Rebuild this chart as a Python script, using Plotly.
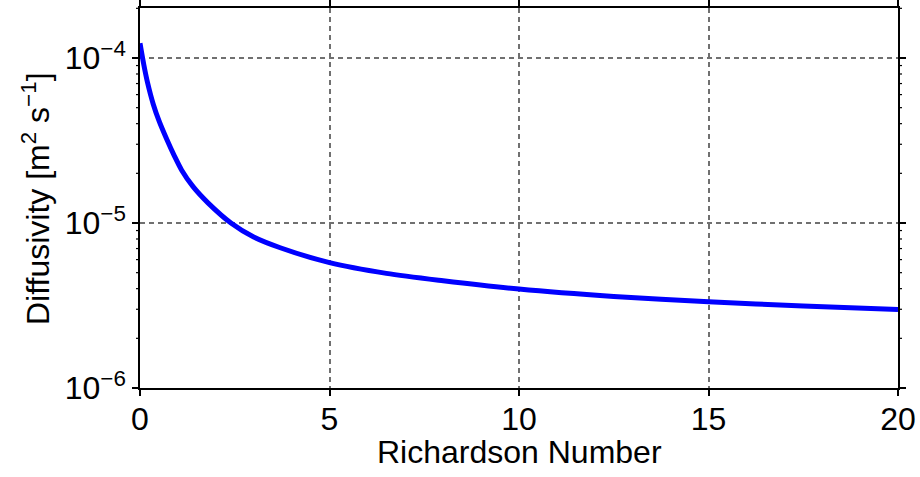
import math
import plotly.graph_objects as go

richardson = [0, 0.1, 0.2, 0.35, 0.5, 0.7, 0.9, 1.1, 1.4, 1.8, 2.4, 3.0, 3.7, 5.0, 6.5, 8.0, 10, 12.5, 15, 17.5, 20]
diffusivity = [1.23e-4, 9.12e-5, 7.08e-5, 5.25e-5, 4.17e-5, 3.24e-5, 2.57e-5, 2.09e-5, 1.66e-5, 1.32e-5, 1.0e-5,
               8.22e-6, 7.08e-6, 5.75e-6, 4.95e-6, 4.47e-6, 3.98e-6, 3.59e-6, 3.33e-6, 3.14e-6, 2.99e-6]

x_ticks = [0, 5, 10, 15, 20]
y_ticks = [1e-6, 1e-5, 1e-4]
y_tick_text = ["10<sup>−6</sup>", "10<sup>−5</sup>", "10<sup>−4</sup>"]
y_minor_ticks = [m * 10.0 ** e for e in (-6, -5, -4) for m in range(2, 10)]

FONT = "Liberation Sans, Arial, sans-serif"
FS = 32
Y_RANGE = [-6, -3.697]
PLOT_W = 758
PLOT_H = 380

fig = go.Figure()
fig.add_trace(go.Scatter(
    x=richardson, y=diffusivity, mode="lines",
    line=dict(color="#0000ff", width=5, shape="spline", smoothing=0.8),
    showlegend=False, hoverinfo="skip",
))

fig.update_layout(
    width=920, height=477,
    margin=dict(l=140, r=22, t=8, b=89, autoexpand=False),
    paper_bgcolor="white", plot_bgcolor="white",
    font=dict(family=FONT, size=FS, color="black"),
)

fig.update_xaxes(
    range=[0, 20], tickvals=x_ticks, automargin=False,
    showline=True, linecolor="black", linewidth=1.5, mirror="ticks",
    ticks="outside", ticklen=6, tickwidth=1.5, tickcolor="black",
    showgrid=True, gridcolor="#707070", gridwidth=1.8, griddash="5px,4px",
    zeroline=False,
    tickfont=dict(size=FS), ticklabelstandoff=-4,
)

fig.update_yaxes(
    type="log", range=Y_RANGE, tickvals=y_ticks, ticktext=y_tick_text, automargin=False,
    showline=True, linecolor="black", linewidth=1.5, mirror="ticks",
    ticks="outside", ticklen=6, tickwidth=1.5, tickcolor="black",
    showgrid=True, gridcolor="#707070", gridwidth=1.8, griddash="5px,4px",
    zeroline=False, tickfont=dict(size=FS),
)

# minor ticks of the log axis (left and right, outside), placed in paper coords so they are not clipped
tick_len = 4 / PLOT_W
for v in y_minor_ticks:
    lv = math.log10(v)
    if Y_RANGE[0] <= lv <= Y_RANGE[1]:
        py = (lv - Y_RANGE[0]) / (Y_RANGE[1] - Y_RANGE[0])
        for x0, x1 in ((0, -tick_len), (1, 1 + tick_len)):
            fig.add_shape(type="line", xref="paper", yref="paper", x0=x0, x1=x1, y0=py, y1=py,
                          line=dict(color="black", width=1.2), layer="above")

fig.add_annotation(text="Richardson Number", xref="paper", yref="paper",
                   x=0.5, y=-(452 - 388) / PLOT_H, xanchor="center", yanchor="middle",
                   showarrow=False, font=dict(size=FS))
fig.add_annotation(text="Diffusivity [m<sup>2</sup> s<sup>−1</sup>]", xref="paper", yref="paper",
                   x=(36 - 140) / PLOT_W, y=(388 - 199) / PLOT_H, xanchor="center", yanchor="middle",
                   textangle=-90, showarrow=False, font=dict(size=FS))

fig.write_html("out.html")
